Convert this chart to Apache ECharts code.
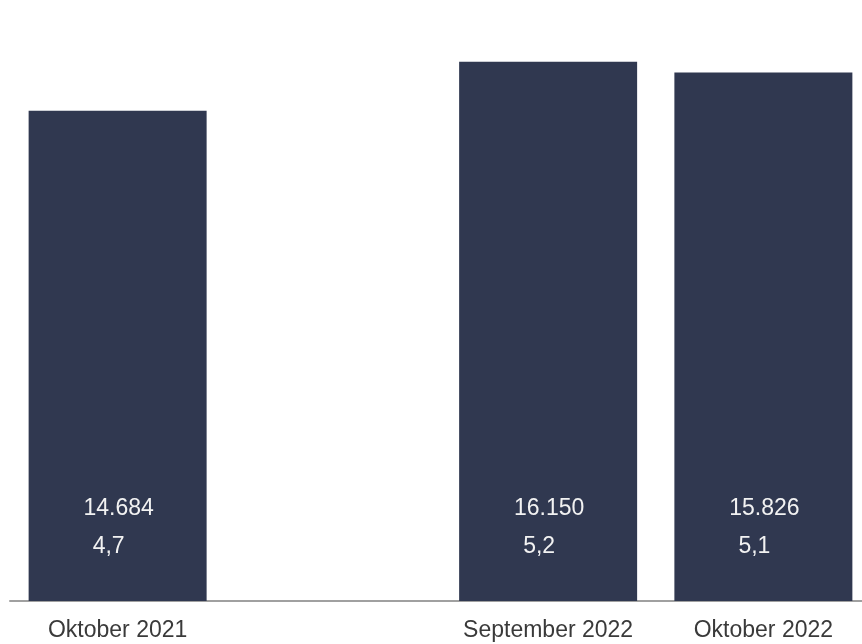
<!DOCTYPE html>
<html>
<head>
<meta charset="utf-8">
<script src="https://cdn.jsdelivr.net/npm/echarts@6/dist/echarts.min.js"></script>
<style>
html,body{margin:0;padding:0;background:#fff;overflow:hidden;}
#chart{width:862px;height:644px;}
</style>
</head>
<body>
<div id="chart"></div>
<script>
const categories = ['Oktober 2021', '', 'September 2022', 'Oktober 2022'];
const values = [14684, null, 16150, 15826];
const shares = ['4,7', null, '5,2', '5,1'];

function fmt(v) {
  return String(v).replace(/\B(?=(\d{3})+(?!\d))/g, '.');
}

const chart = echarts.init(document.getElementById('chart'));
chart.setOption({
  animation: false,
  grid: { left: 10, width: 861, top: 0, bottom: 43, outerBoundsMode: 'none', containLabel: false },
  xAxis: {
    type: 'category',
    data: categories,
    axisLine: { lineStyle: { color: '#a0a0a0', width: 2 } },
    axisTick: { show: false },
    axisLabel: {
      color: '#3a3a3a',
      fontFamily: 'Liberation Sans, Arial, sans-serif',
      fontSize: 23,
      margin: 18,
      interval: 0
    }
  },
  yAxis: {
    type: 'value',
    min: 0,
    max: 18000,
    show: false,
    splitLine: { show: false }
  },
  series: [{
    type: 'bar',
    data: values,
    barWidth: 178,
    itemStyle: { color: '#303850' },
    label: {
      show: true,
      position: 'insideBottom',
      distance: 35,
      color: '#f2f2f2',
      fontFamily: 'Liberation Sans, Arial, sans-serif',
      formatter: function (p) {
        if (p.value == null) return '';
        return '{a|' + fmt(p.value) + '}\n{b|' + shares[p.dataIndex] + '}';
      },
      rich: {
        a: { fontSize: 23, lineHeight: 38, color: '#f2f2f2', padding: [0, 0, 0, 2] },
        b: { fontSize: 23, lineHeight: 38, color: '#f2f2f2', padding: [0, 18, 0, 0] }
      }
    }
  }]
});
</script>
</body>
</html>
